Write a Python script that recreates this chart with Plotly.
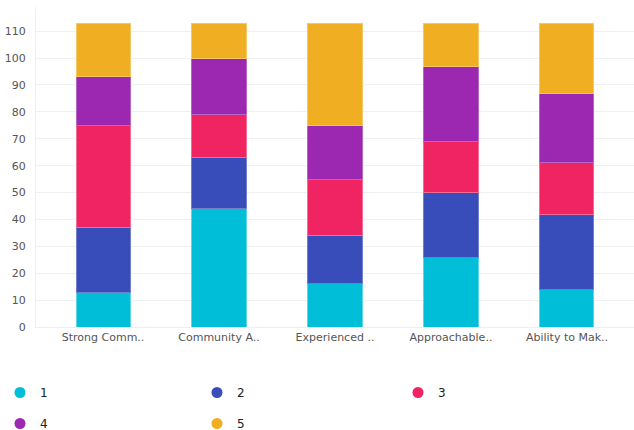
import plotly.graph_objects as go

categories = ["Strong Comm..", "Community A..", "Experienced ..", "Approachable..", "Ability to Mak.."]
series_names = ["1", "2", "3", "4", "5"]
s1 = [13, 44, 16, 26, 14]
s2 = [24, 19, 18, 24, 28]
s3 = [38, 16, 21, 19, 19]
s4 = [18, 21, 20, 28, 26]
s5 = [20, 13, 38, 16, 26]
colors = ["#00bed8", "#384db9", "#f02463", "#9c28b1", "#f0af22"]
edge = ["#5fd6e6", "#6f7fcc", "#f56b93", "#b566c6", "#f5c766"]

W, H = 634, 430
# legend grid: (left px, centre-y px) for each entry
legend_pos = [(0, 392.5), (197, 392.5), (398, 392.5), (0, 423.5), (197, 423.5)]

series = [s1, s2, s3, s4, s5]
fig = go.Figure()
x_idx = list(range(len(categories)))
for name, vals, c, e in zip(series_names, series, colors, edge):
    fig.add_trace(go.Bar(x=x_idx, y=vals, name=name, marker=dict(color=c, line=dict(color=e, width=1)),
                         showlegend=False))

legends = {}
for i, (name, c) in enumerate(zip(series_names, colors)):
    key = "legend" if i == 0 else f"legend{i + 1}"
    fig.add_trace(go.Scatter(x=[None], y=[None], mode="markers", name=name,
                             marker=dict(symbol="circle", size=11, color=c), legend=key))
    lx, ly = legend_pos[i]
    legends[key] = dict(orientation="h", xref="container", yref="container",
                        x=lx / W, xanchor="left", y=1 - ly / H, yanchor="middle",
                        font=dict(family="DejaVu Sans", size=12, color="#222"),
                        bgcolor="rgba(0,0,0,0)", itemclick=False, itemdoubleclick=False)

fig.update_layout(
    width=W, height=H,
    margin=dict(l=36, r=0, t=7, b=103, autoexpand=False),
    barmode="stack", bargap=0.534,
    plot_bgcolor="white", paper_bgcolor="white",
    font=dict(family="DejaVu Sans", size=11, color="#555"),
    xaxis=dict(tickmode="array", tickvals=x_idx, ticktext=categories, range=[-0.578, 4.578],
               showgrid=False, showline=True, linecolor="#eeeeee", linewidth=1, ticks="",
               tickfont=dict(size=11, color="#555")),
    yaxis=dict(range=[0, 119], tickvals=list(range(0, 111, 10)), showgrid=True, gridcolor="#f0f0f0",
               showline=True, linecolor="#eeeeee", linewidth=1, zeroline=False, ticks="",
               ticklabelstandoff=7, tickfont=dict(size=11, color="#555")),
    **legends,
)

fig.write_html("out.html", config={"displayModeBar": False},
               post_script=["document.body.style.margin='0px';"])
